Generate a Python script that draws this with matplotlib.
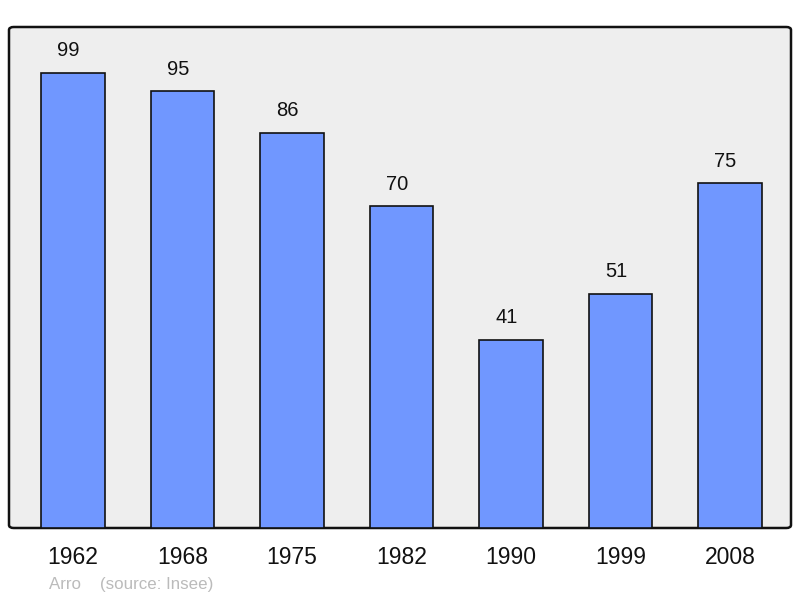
import matplotlib
matplotlib.use("Agg")
import matplotlib.pyplot as plt
from matplotlib.patches import FancyBboxPatch
from matplotlib.transforms import offset_copy

years = ["1962", "1968", "1975", "1982", "1990", "1999", "2008"]
values = [99, 95, 86, 70, 41, 51, 75]

plt.rcParams['font.family'] = ['Liberation Sans', 'DejaVu Sans']

fig = plt.figure(figsize=(8, 5.98), dpi=100)
W, H = 800, 598
ax = fig.add_axes([9 / W, 1 - 528 / H, (791 - 9) / W, (528 - 27) / H])
ax.set_facecolor('none')
for s in ax.spines.values():
    s.set_visible(False)

bg = FancyBboxPatch((0, 0), 1, 1, boxstyle="round,pad=0,rounding_size=0.006",
                    transform=ax.transAxes, facecolor='#eeeeee', edgecolor='#111111',
                    linewidth=1.8, zorder=0, clip_on=False)
ax.add_patch(bg)

x = list(range(len(years)))
ax.bar(x, values, width=0.58, color='#7097ff', edgecolor='#111111', linewidth=1.2, zorder=2)
tr = offset_copy(ax.transData, fig=fig, x=-3.3, y=0, units='points')
for xi, v in zip(x, values):
    ax.text(xi, v + 4.8, str(v), ha='center', va='center', fontsize=14.5,
            color='#111111', transform=tr)

ax.set_xlim(-0.585, 6.557)
ax.set_ylim(0, 109)
ax.set_yticks([])
ax.set_xticks(x)
ax.set_xticklabels(years, fontsize=16.5, color='#111111')
ax.tick_params(axis='x', length=0, pad=13)

fig.text(49 / W, 1 - 585 / H, "Arro    (source: Insee)", fontsize=12.2, color='#bbbbbb',
         ha='left', va='center')

fig.savefig("out.png", dpi=100)
